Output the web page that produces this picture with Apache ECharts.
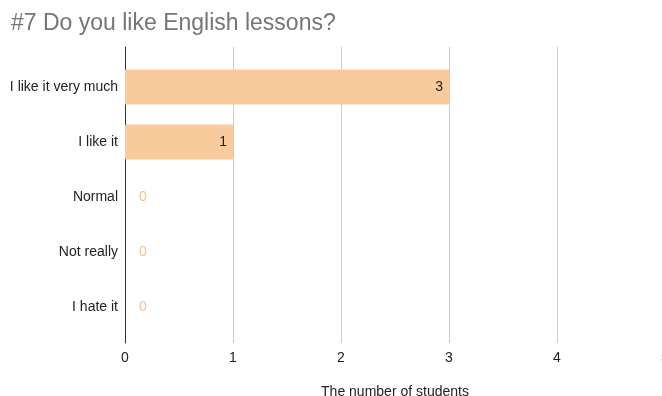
<!DOCTYPE html>
<html>
<head>
<meta charset="utf-8">
<style>
  html, body { margin: 0; padding: 0; background: #fff; }
  #chart { width: 662px; height: 396px; }
</style>
<script src="https://cdn.jsdelivr.net/npm/echarts@6/dist/echarts.min.js"></script>
</head>
<body>
<div id="chart"></div>
<script>
// Survey answers and how many students chose each
const categories = ['I like it very much', 'I like it', 'Normal', 'Not really', 'I hate it'];
const counts = [3, 1, 0, 0, 0];
const xTicks = [0, 1, 2, 3, 4, 5];

const titleText = '#7 Do you like English lessons?';
const axisTitle = 'The number of students';

const barColor = '#f9cb9c';
const FONT = '"Liberation Sans", Arial, sans-serif';

const chart = echarts.init(document.getElementById('chart'), null, { renderer: 'canvas' });

// zero-valued answers get their label just past the baseline in the bar colour
const barData = counts.map(v => v === 0
  ? { value: v, label: { position: 'right', distance: 14, color: '#f7c08f' } }
  : { value: v });

chart.setOption({
  animation: false,
  textStyle: { fontFamily: FONT },
  title: {
    text: titleText,
    left: 6,
    top: 7,
    textStyle: { fontFamily: FONT, fontSize: 23, fontWeight: 'normal', color: '#757575' }
  },
  grid: [
    // bars
    { left: 125, width: 540, top: 59.5, height: 275, outerBoundsMode: 'none', containLabel: false },
    // taller frame carrying the gridlines, baseline and value axis labels
    { left: 125, width: 540, top: 47, height: 296, outerBoundsMode: 'none', containLabel: false }
  ],
  xAxis: [
    {
      gridIndex: 0, type: 'value', min: xTicks[0], max: xTicks[xTicks.length - 1], interval: 1,
      show: false
    },
    {
      gridIndex: 1, type: 'value', min: xTicks[0], max: xTicks[xTicks.length - 1], interval: 1,
      axisLine: { show: false },
      axisTick: { show: false },
      axisLabel: { fontFamily: FONT, fontSize: 14, color: '#222', margin: 8 },
      splitLine: { show: true, lineStyle: { color: '#cccccc', width: 1 } },
      name: axisTitle,
      nameLocation: 'middle',
      nameGap: 42,
      nameTextStyle: { fontFamily: FONT, fontSize: 14, color: '#222' }
    }
  ],
  yAxis: [
    {
      gridIndex: 0, type: 'category', data: categories, inverse: true,
      axisLine: { show: false },
      axisTick: { show: false },
      axisLabel: { fontFamily: FONT, fontSize: 14, color: '#222', margin: 7 },
      splitLine: { show: false }
    },
    {
      gridIndex: 1, type: 'category', data: categories, inverse: true,
      axisLine: { show: true, lineStyle: { color: '#333', width: 1 } },
      axisTick: { show: false },
      axisLabel: { show: false },
      splitLine: { show: false }
    }
  ],
  series: [
    {
      type: 'bar',
      xAxisIndex: 0,
      yAxisIndex: 0,
      data: barData,
      barWidth: 35,
      itemStyle: { color: barColor, borderRadius: 1 },
      label: {
        show: true,
        position: 'insideRight',
        distance: 6,
        fontFamily: FONT,
        fontSize: 14,
        color: '#222'
      }
    }
  ]
});
</script>
</body>
</html>
